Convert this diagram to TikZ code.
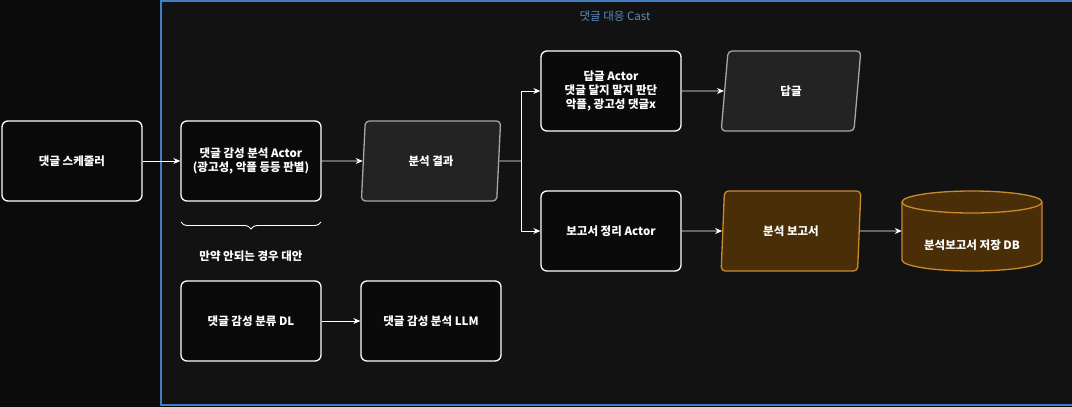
\documentclass[tikz,border=0pt]{standalone}
\usepackage{fontspec}
\setmainfont{Noto Sans CJK KR}
\usetikzlibrary{arrows.meta,shapes.geometric,decorations.pathreplacing}
\definecolor{outerbg}{HTML}{0B0B0B}
\definecolor{castbg}{HTML}{121212}
\definecolor{castline}{HTML}{3F7FC2}
\definecolor{casttext}{HTML}{5C8FBF}
\definecolor{boxfill}{HTML}{0A0A0A}
\definecolor{resfill}{HTML}{232323}
\definecolor{resline}{HTML}{A6A6A6}
\definecolor{repfill}{HTML}{4A2E08}
\definecolor{repline}{HTML}{C98A2E}

\begin{document}
\begin{tikzpicture}[x=1pt,y=-1pt,
        txt/.style={text=white, font=\fontsize{11.5}{14}\selectfont\bfseries, align=center},
        box/.style={txt, draw=white, line width=1.3pt, fill=boxfill, rounded corners=6pt,
            minimum width=140pt, minimum height=80pt},
        pgram/.style={txt, trapezium, trapezium left angle=85, trapezium right angle=95,
            trapezium stretches=true, minimum width=140pt, minimum height=80pt,
            rounded corners=4pt, line width=1.3pt},
        slot/.style={minimum width=140pt, minimum height=80pt},
        link/.style={white, line width=0.9pt, -{Stealth[length=7pt,width=6pt]}}]
        \useasboundingbox (0,0) rectangle (1072,407);
        \fill [outerbg] (0,0) rectangle (1072,407);
        \draw [castline, fill=castbg, line width=1.6pt] (161,1) rectangle (1076,405);
        \node [casttext, font=\fontsize{11.5}{14}\selectfont] (cast) at (615,16) {댓글 대응 Cast};

        \node [box] (sched) at (72,161) {댓글 스케줄러};
        \node [box] (senti) at (251,161) {댓글 감성 분석 Actor\\(광고성, 악플 등등 판별)};
        \node [pgram, fill=resfill, draw=resline] (result) at (431,161) {분석 결과};
        \node [box] (replyactor) at (611,91) {답글 Actor\\댓글 달지 말지 판단\\악플, 광고성 댓글x};
        \node [pgram, fill=resfill, draw=resline] (reply) at (791,91) {답글};
        \node [box] (reportactor) at (611,231) {보고서 정리 Actor};
        \node [pgram, fill=repfill, draw=repline] (report) at (791,231) {분석 보고서};
        \node [slot] (db) at (972,231) {};
        \draw [repline, fill=repfill, line width=1.3pt] (902,202) -- (902,260)
            arc [start angle=180, end angle=360, x radius=70pt, y radius=11pt] -- (1042,202)
            arc [start angle=0, end angle=180, x radius=70pt, y radius=11pt] -- cycle;
        \draw [repline, line width=1.3pt] (902,202)
            arc [start angle=180, end angle=360, x radius=70pt, y radius=11pt];
        \node [txt] (dblabel) at (972,245) {분석보고서 저장 DB};

        \draw [white, line width=0.9pt, decorate, decoration={brace, mirror, amplitude=7pt}]
            (181,222) -- (321,222);
        \node [txt] (altlabel) at (251,256) {만약 안되는 경우 대안};
        \node [box] (dl) at (251,321) {댓글 감성 분류 DL};
        \node [box] (llm) at (431,321) {댓글 감성 분석 LLM};

        \coordinate (fork) at (521,161);
        \draw [link] (sched) -- (senti);
        \draw [link] (senti) -- (result);
        \draw [white, line width=0.9pt] (result.east) -- (fork);
        \draw [link] (fork) |- (replyactor);
        \draw [link] (fork) |- (reportactor);
        \draw [link] (replyactor) -- (reply);
        \draw [link] (reportactor) -- (report);
        \draw [link] (report) -- (db);
        \draw [link] (dl) -- (llm);
\end{tikzpicture}
\end{document}
